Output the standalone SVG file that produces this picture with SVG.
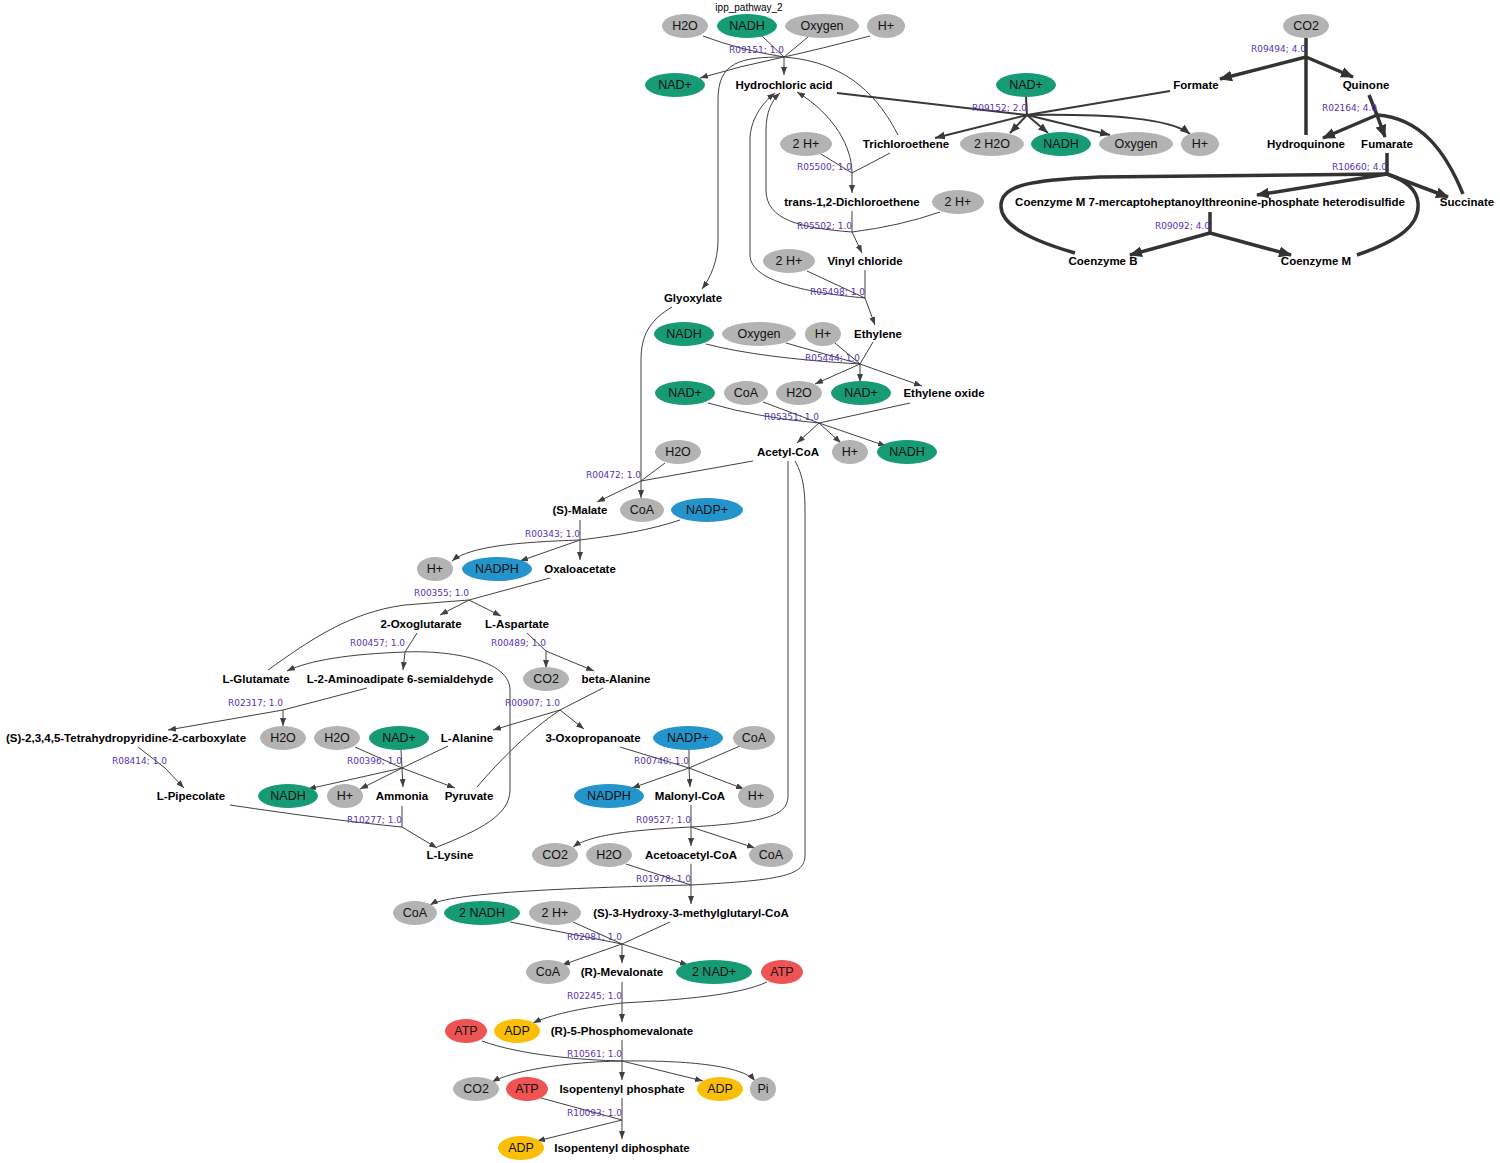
<svg xmlns="http://www.w3.org/2000/svg" width="1500" height="1163" viewBox="0 0 1500 1163">
<style>
  .bg { fill: #ffffff; }
  .cg { fill: #b3b3b3; }
  .cn { fill: #169b74; }
  .cb { fill: #2494cc; }
  .cr { fill: #ef5454; }
  .cy { fill: #fcbf08; }
  .lt { font-family: "Liberation Sans", Arial, sans-serif; font-size: 12.5px; fill: #111; text-anchor: middle; }
  .mt { font-family: "Liberation Sans", Arial, sans-serif; font-size: 11.5px; font-weight: bold; fill: #000; text-anchor: middle; }
  .rt { font-family: "DejaVu Sans", sans-serif; font-size: 9px; fill: #5733b3; text-anchor: end; }
  .tt { font-family: "Liberation Sans", Arial, sans-serif; font-size: 10px; fill: #000; text-anchor: middle; }
  .e { fill: none; stroke: #404040; stroke-width: 1; }
  .e2 { fill: none; stroke: #383838; stroke-width: 2; }
  .e4 { fill: none; stroke: #333333; stroke-width: 3.5; }
  .a { marker-end: url(#a1); }
  .e2.a { marker-end: url(#a2); }
  .e4.a { marker-end: url(#a4); }
</style>
<defs>
  <marker id="a1" markerUnits="userSpaceOnUse" markerWidth="8" markerHeight="6" refX="8" refY="3" orient="auto"><path d="M0,0 L8,3 L0,6 z" fill="#404040"/></marker>
  <marker id="a2" markerUnits="userSpaceOnUse" markerWidth="10" markerHeight="8" refX="10" refY="4" orient="auto"><path d="M0,0 L10,4 L0,8 z" fill="#383838"/></marker>
  <marker id="a4" markerUnits="userSpaceOnUse" markerWidth="13" markerHeight="11" refX="12" refY="5.5" orient="auto"><path d="M0,0 L13,5.5 L0,11 z" fill="#333333"/></marker>
</defs>
<rect class="bg" x="0" y="0" width="1500" height="1163"/>
<text class="tt" x="749" y="11">ipp_pathway_2</text>

<!-- reaction connectors -->
<g id="connectors">
  <g id="r_R09151">
    <path class="e" d="M703,36 Q740,50 784,57"/>
    <path class="e" d="M762,36 L784,57"/>
    <path class="e" d="M808,37 L784,57"/>
    <path class="e" d="M870,36 Q820,49 784,57"/>
    <path class="e" d="M898,135 C880,100 850,62 784,57"/>
    <path class="e a" d="M784,57 L784,75"/>
    <path class="e a" d="M784,57 Q740,66 700,78"/>
    <path class="e a" d="M784,57 C740,57 718,62 718,100 L718,240 C718,262 710,278 702,289"/>
    <text class="rt" x="784" y="53">R09151; 1.0</text>
  </g>
  <g id="r_R05500">
    <path class="e" d="M821,154 L852,173"/>
    <path class="e" d="M890,153 L852,173"/>
    <path class="e a" d="M852,173 L852,193"/>
    <path class="e a" d="M852,173 C852,148 835,115 797,92"/>
    <text class="rt" x="852" y="170">R05500; 1.0</text>
  </g>
  <g id="r_R05502">
    <path class="e" d="M852,211 L852,232"/>
    <path class="e" d="M940,212 Q900,226 852,232"/>
    <path class="e a" d="M852,232 L862,253"/>
    <path class="e a" d="M852,232 C800,228 766,220 766,190 L766,130 C766,112 772,100 780,93"/>
    <text class="rt" x="852" y="229">R05502; 1.0</text>
  </g>
  <g id="r_R05498">
    <path class="e" d="M865,270 L865,298"/>
    <path class="e" d="M807,271 L865,298"/>
    <path class="e a" d="M865,298 L875,325"/>
    <path class="e a" d="M865,298 C810,293 750,282 750,255 L750,140 C750,120 762,103 775,93"/>
    <text class="rt" x="865" y="295">R05498; 1.0</text>
  </g>
  <g id="r_R09152">
    <path class="e2" d="M1026,97 L1027,115"/>
    <path class="e2" d="M837,93 L1027,115"/>
    <path class="e2" d="M1170,91 L1027,115"/>
    <path class="e2 a" d="M1027,115 L935,138"/>
    <path class="e2 a" d="M1027,115 L1010,133"/>
    <path class="e2 a" d="M1027,115 L1048,133"/>
    <path class="e2 a" d="M1027,115 L1110,135"/>
    <path class="e2 a" d="M1027,115 C1110,114 1170,118 1190,134"/>
    <text class="rt" x="1027" y="111">R09152; 2.0</text>
  </g>
  <g id="r_R09494">
    <path class="e4" d="M1306,38 L1306,57"/>
    <path class="e4" d="M1306,135 L1306,57"/>
    <path class="e4 a" d="M1306,57 L1220,79"/>
    <path class="e4 a" d="M1306,57 L1353,77"/>
    <text class="rt" x="1306" y="52">R09494; 4.0</text>
  </g>
  <g id="r_R02164">
    <path class="e4" d="M1369,95 L1377,115"/>
    <path class="e4" d="M1463,194 C1445,150 1420,118 1377,115"/>
    <path class="e4 a" d="M1377,115 L1323,138"/>
    <path class="e4 a" d="M1377,115 L1385,137"/>
    <text class="rt" x="1377" y="111">R02164; 4.0</text>
  </g>
  <g id="r_R10660">
    <path class="e4" d="M1387,153 L1387,174"/>
    <path class="e4" d="M1075,253 C1030,240 1000,225 1001,205 C1002,185 1030,180 1100,177 L1387,174"/>
    <path class="e4" d="M1357,255 C1400,240 1420,225 1418,203 C1417,190 1405,180 1387,174"/>
    <path class="e4 a" d="M1387,174 L1257,195"/>
    <path class="e4 a" d="M1387,174 L1448,197"/>
    <text class="rt" x="1387" y="170">R10660; 4.0</text>
  </g>
  <g id="r_R09092">
    <path class="e4" d="M1210,212 L1210,233"/>
    <path class="e4 a" d="M1210,233 L1130,255"/>
    <path class="e4 a" d="M1210,233 L1291,255"/>
    <text class="rt" x="1210" y="229">R09092; 4.0</text>
  </g>
  <g id="r_R05444">
    <path class="e" d="M706,344 Q760,358 860,364"/>
    <path class="e" d="M786,343 L860,364"/>
    <path class="e" d="M835,343 L860,364"/>
    <path class="e" d="M873,342 L860,364"/>
    <path class="e a" d="M860,364 L815,384"/>
    <path class="e a" d="M860,364 L860,382"/>
    <path class="e a" d="M860,364 L922,386"/>
    <text class="rt" x="860" y="361">R05444; 1.0</text>
  </g>
  <g id="r_R05351">
    <path class="e" d="M708,403 Q760,418 819,423"/>
    <path class="e" d="M763,402 L819,423"/>
    <path class="e" d="M910,403 L819,423"/>
    <path class="e a" d="M819,423 L797,443"/>
    <path class="e a" d="M819,423 L841,443"/>
    <path class="e a" d="M819,423 L886,446"/>
    <text class="rt" x="819" y="420">R05351; 1.0</text>
  </g>
  <g id="r_R00472">
    <path class="e" d="M665,463 L641,481"/>
    <path class="e" d="M753,461 L641,481"/>
    <path class="e" d="M672,307 C650,320 641,335 641,360 L641,481"/>
    <path class="e a" d="M641,481 L641,498"/>
    <path class="e a" d="M641,481 L597,502"/>
    <text class="rt" x="641" y="478">R00472; 1.0</text>
  </g>
  <g id="r_R00343">
    <path class="e" d="M580,520 L580,540"/>
    <path class="e" d="M680,520 C650,530 620,535 580,540"/>
    <path class="e a" d="M580,540 L580,560"/>
    <path class="e a" d="M580,540 C520,542 470,546 452,561"/>
    <path class="e a" d="M580,540 L520,561"/>
    <text class="rt" x="580" y="537">R00343; 1.0</text>
  </g>
  <g id="r_R00355">
    <path class="e" d="M550,578 L469,600"/>
    <path class="e" d="M268,670 C310,640 350,612 405,605 L469,600"/>
    <path class="e a" d="M469,600 L440,615"/>
    <path class="e a" d="M469,600 L501,616"/>
    <text class="rt" x="469" y="596">R00355; 1.0</text>
  </g>
  <g id="r_R00457">
    <path class="e" d="M417,633 L405,652"/>
    <path class="e" d="M437,847 C480,830 510,815 510,790 L510,690 C510,660 450,650 405,652"/>
    <path class="e a" d="M405,652 L403,670"/>
    <path class="e a" d="M405,652 C350,654 310,660 287,671"/>
    <text class="rt" x="405" y="646">R00457; 1.0</text>
  </g>
  <g id="r_R00489">
    <path class="e" d="M527,633 L546,651"/>
    <path class="e a" d="M546,651 L546,668"/>
    <path class="e a" d="M546,651 L594,671"/>
    <text class="rt" x="546" y="646">R00489; 1.0</text>
  </g>
  <g id="r_R02317">
    <path class="e" d="M367,688 L283,710"/>
    <path class="e a" d="M283,710 L168,730"/>
    <path class="e a" d="M283,710 L283,726"/>
    <text class="rt" x="283" y="706">R02317; 1.0</text>
  </g>
  <g id="r_R00907">
    <path class="e" d="M603,688 L560,710"/>
    <path class="e" d="M477,787 C500,760 530,730 560,710"/>
    <path class="e a" d="M560,710 L493,730"/>
    <path class="e a" d="M560,710 L584,729"/>
    <text class="rt" x="560" y="706">R00907; 1.0</text>
  </g>
  <g id="r_R08414">
    <path class="e" d="M138,747 L165,768"/>
    <path class="e a" d="M165,768 L184,788"/>
    <text class="rt" x="167" y="764">R08414; 1.0</text>
  </g>
  <g id="r_R00396">
    <path class="e" d="M355,747 L402,768"/>
    <path class="e" d="M401,750 L402,768"/>
    <path class="e" d="M448,746 L402,768"/>
    <path class="e a" d="M402,768 L403,787"/>
    <path class="e a" d="M402,768 L308,789"/>
    <path class="e a" d="M402,768 L360,789"/>
    <path class="e a" d="M402,768 L455,788"/>
    <text class="rt" x="402" y="764">R00396; 1.0</text>
  </g>
  <g id="r_R00740">
    <path class="e" d="M620,747 L689,768"/>
    <path class="e" d="M689,750 L689,768"/>
    <path class="e" d="M740,746 L689,768"/>
    <path class="e a" d="M689,768 L690,787"/>
    <path class="e a" d="M689,768 L632,788"/>
    <path class="e a" d="M689,768 L744,789"/>
    <text class="rt" x="689" y="764">R00740; 1.0</text>
  </g>
  <g id="r_R10277">
    <path class="e" d="M230,805 Q330,820 402,827"/>
    <path class="e" d="M402,806 L402,827"/>
    <path class="e a" d="M402,827 L437,848"/>
    <text class="rt" x="402" y="823">R10277; 1.0</text>
  </g>
  <g id="r_R09527">
    <path class="e" d="M691,805 L691,827"/>
    <path class="e" d="M788,461 L788,795 C788,815 770,822 691,827"/>
    <path class="e a" d="M691,827 L691,846"/>
    <path class="e a" d="M691,827 C630,830 590,835 573,847"/>
    <path class="e a" d="M691,827 L755,848"/>
    <text class="rt" x="691" y="823">R09527; 1.0</text>
  </g>
  <g id="r_R01978">
    <path class="e" d="M691,864 L691,885"/>
    <path class="e" d="M626,864 L691,885"/>
    <path class="e" d="M795,461 C803,475 805,490 805,510 L805,855 C805,875 785,880 691,885"/>
    <path class="e a" d="M691,885 L691,904"/>
    <path class="e a" d="M691,885 C560,888 450,893 430,905"/>
    <text class="rt" x="691" y="882">R01978; 1.0</text>
  </g>
  <g id="r_R02081">
    <path class="e" d="M670,922 L622,944"/>
    <path class="e" d="M510,922 L622,944"/>
    <path class="e" d="M573,922 L622,944"/>
    <path class="e a" d="M622,944 L622,963"/>
    <path class="e a" d="M622,944 L562,965"/>
    <path class="e a" d="M622,944 L688,965"/>
    <text class="rt" x="622" y="940">R02081; 1.0</text>
  </g>
  <g id="r_R02245">
    <path class="e" d="M622,982 L622,1003"/>
    <path class="e" d="M767,982 C740,995 680,1000 622,1003"/>
    <path class="e a" d="M622,1003 L622,1022"/>
    <path class="e a" d="M622,1003 C580,1008 550,1015 533,1023"/>
    <text class="rt" x="622" y="999">R02245; 1.0</text>
  </g>
  <g id="r_R10561">
    <path class="e" d="M622,1040 L622,1061"/>
    <path class="e" d="M482,1041 C520,1055 580,1060 622,1061"/>
    <path class="e a" d="M622,1061 L622,1080"/>
    <path class="e a" d="M622,1061 C560,1062 510,1072 492,1082"/>
    <path class="e a" d="M622,1061 L703,1081"/>
    <path class="e a" d="M622,1061 C700,1060 745,1068 755,1081"/>
    <text class="rt" x="622" y="1057">R10561; 1.0</text>
  </g>
  <g id="r_R10093">
    <path class="e" d="M622,1098 L622,1120"/>
    <path class="e" d="M541,1098 L622,1120"/>
    <path class="e a" d="M622,1120 L622,1139"/>
    <path class="e a" d="M622,1120 L537,1141"/>
    <text class="rt" x="622" y="1116">R10093; 1.0</text>
  </g>
</g>

<!-- cofactor nodes (ellipses) -->
<g id="n_h2o_1"><ellipse class="cg" cx="685" cy="26" rx="23" ry="12"/><text class="lt" x="685" y="30">H2O</text></g>
<g id="n_nadh_1"><ellipse class="cn" cx="747" cy="26" rx="30" ry="12"/><text class="lt" x="747" y="30">NADH</text></g>
<g id="n_oxygen_1"><ellipse class="cg" cx="822" cy="26" rx="37" ry="12"/><text class="lt" x="822" y="30">Oxygen</text></g>
<g id="n_hplus_1"><ellipse class="cg" cx="886" cy="26" rx="19" ry="12"/><text class="lt" x="886" y="30">H+</text></g>
<g id="n_co2_1"><ellipse class="cg" cx="1306" cy="26" rx="23" ry="12"/><text class="lt" x="1306" y="30">CO2</text></g>
<g id="n_nadp_1"><ellipse class="cn" cx="675" cy="85" rx="30" ry="12"/><text class="lt" x="675" y="89">NAD+</text></g>
<g id="n_nadp_2"><ellipse class="cn" cx="1026" cy="85" rx="30" ry="12"/><text class="lt" x="1026" y="89">NAD+</text></g>
<g id="n_2hplus_1"><ellipse class="cg" cx="806" cy="144" rx="26" ry="12"/><text class="lt" x="806" y="148">2 H+</text></g>
<g id="n_2h2o_1"><ellipse class="cg" cx="992" cy="144" rx="32" ry="12"/><text class="lt" x="992" y="148">2 H2O</text></g>
<g id="n_nadh_2"><ellipse class="cn" cx="1061" cy="144" rx="30" ry="12"/><text class="lt" x="1061" y="148">NADH</text></g>
<g id="n_oxygen_2"><ellipse class="cg" cx="1136" cy="144" rx="37" ry="12"/><text class="lt" x="1136" y="148">Oxygen</text></g>
<g id="n_hplus_2"><ellipse class="cg" cx="1200" cy="144" rx="19" ry="12"/><text class="lt" x="1200" y="148">H+</text></g>
<g id="n_2hplus_2"><ellipse class="cg" cx="958" cy="202" rx="26" ry="12"/><text class="lt" x="958" y="206">2 H+</text></g>
<g id="n_2hplus_3"><ellipse class="cg" cx="789" cy="261" rx="26" ry="12"/><text class="lt" x="789" y="265">2 H+</text></g>
<g id="n_nadh_3"><ellipse class="cn" cx="684" cy="334" rx="30" ry="12"/><text class="lt" x="684" y="338">NADH</text></g>
<g id="n_oxygen_3"><ellipse class="cg" cx="759" cy="334" rx="37" ry="12"/><text class="lt" x="759" y="338">Oxygen</text></g>
<g id="n_hplus_3"><ellipse class="cg" cx="823" cy="334" rx="18" ry="12"/><text class="lt" x="823" y="338">H+</text></g>
<g id="n_nadp_3"><ellipse class="cn" cx="685" cy="393" rx="30" ry="12"/><text class="lt" x="685" y="397">NAD+</text></g>
<g id="n_coa_1"><ellipse class="cg" cx="746" cy="393" rx="22" ry="12"/><text class="lt" x="746" y="397">CoA</text></g>
<g id="n_h2o_2"><ellipse class="cg" cx="799" cy="393" rx="23" ry="12"/><text class="lt" x="799" y="397">H2O</text></g>
<g id="n_nadp_4"><ellipse class="cn" cx="861" cy="393" rx="30" ry="12"/><text class="lt" x="861" y="397">NAD+</text></g>
<g id="n_h2o_3"><ellipse class="cg" cx="678" cy="452" rx="23" ry="12"/><text class="lt" x="678" y="456">H2O</text></g>
<g id="n_hplus_4"><ellipse class="cg" cx="850" cy="452" rx="18" ry="12"/><text class="lt" x="850" y="456">H+</text></g>
<g id="n_nadh_4"><ellipse class="cn" cx="907" cy="452" rx="30" ry="12"/><text class="lt" x="907" y="456">NADH</text></g>
<g id="n_coa_2"><ellipse class="cg" cx="642" cy="510" rx="22" ry="12"/><text class="lt" x="642" y="514">CoA</text></g>
<g id="n_nadpplus_1"><ellipse class="cb" cx="707" cy="510" rx="36" ry="12"/><text class="lt" x="707" y="514">NADP+</text></g>
<g id="n_hplus_5"><ellipse class="cg" cx="435" cy="569" rx="18" ry="12"/><text class="lt" x="435" y="573">H+</text></g>
<g id="n_nadph_1"><ellipse class="cb" cx="497" cy="569" rx="35" ry="12"/><text class="lt" x="497" y="573">NADPH</text></g>
<g id="n_co2_2"><ellipse class="cg" cx="546" cy="679" rx="23" ry="12"/><text class="lt" x="546" y="683">CO2</text></g>
<g id="n_h2o_4"><ellipse class="cg" cx="283" cy="738" rx="23" ry="12"/><text class="lt" x="283" y="742">H2O</text></g>
<g id="n_h2o_5"><ellipse class="cg" cx="337" cy="738" rx="23" ry="12"/><text class="lt" x="337" y="742">H2O</text></g>
<g id="n_nadp_5"><ellipse class="cn" cx="399" cy="738" rx="30" ry="12"/><text class="lt" x="399" y="742">NAD+</text></g>
<g id="n_nadpplus_2"><ellipse class="cb" cx="688" cy="738" rx="35" ry="12"/><text class="lt" x="688" y="742">NADP+</text></g>
<g id="n_coa_3"><ellipse class="cg" cx="754" cy="738" rx="21" ry="12"/><text class="lt" x="754" y="742">CoA</text></g>
<g id="n_nadh_5"><ellipse class="cn" cx="288" cy="796" rx="30" ry="12"/><text class="lt" x="288" y="800">NADH</text></g>
<g id="n_hplus_6"><ellipse class="cg" cx="345" cy="796" rx="18" ry="12"/><text class="lt" x="345" y="800">H+</text></g>
<g id="n_nadph_2"><ellipse class="cb" cx="609" cy="796" rx="35" ry="12"/><text class="lt" x="609" y="800">NADPH</text></g>
<g id="n_hplus_7"><ellipse class="cg" cx="756" cy="796" rx="18" ry="12"/><text class="lt" x="756" y="800">H+</text></g>
<g id="n_co2_3"><ellipse class="cg" cx="555" cy="855" rx="23" ry="12"/><text class="lt" x="555" y="859">CO2</text></g>
<g id="n_h2o_6"><ellipse class="cg" cx="609" cy="855" rx="23" ry="12"/><text class="lt" x="609" y="859">H2O</text></g>
<g id="n_coa_4"><ellipse class="cg" cx="771" cy="855" rx="22" ry="12"/><text class="lt" x="771" y="859">CoA</text></g>
<g id="n_coa_5"><ellipse class="cg" cx="415" cy="913" rx="22" ry="12"/><text class="lt" x="415" y="917">CoA</text></g>
<g id="n_2nadh_1"><ellipse class="cn" cx="482" cy="913" rx="38" ry="12"/><text class="lt" x="482" y="917">2 NADH</text></g>
<g id="n_2hplus_4"><ellipse class="cg" cx="555" cy="913" rx="26" ry="12"/><text class="lt" x="555" y="917">2 H+</text></g>
<g id="n_coa_6"><ellipse class="cg" cx="548" cy="972" rx="22" ry="12"/><text class="lt" x="548" y="976">CoA</text></g>
<g id="n_2nadp_1"><ellipse class="cn" cx="714" cy="972" rx="38" ry="12"/><text class="lt" x="714" y="976">2 NAD+</text></g>
<g id="n_atp_1"><ellipse class="cr" cx="782" cy="972" rx="21" ry="12"/><text class="lt" x="782" y="976">ATP</text></g>
<g id="n_atp_2"><ellipse class="cr" cx="466" cy="1031" rx="21" ry="12"/><text class="lt" x="466" y="1035">ATP</text></g>
<g id="n_adp_1"><ellipse class="cy" cx="517" cy="1031" rx="23" ry="12"/><text class="lt" x="517" y="1035">ADP</text></g>
<g id="n_co2_4"><ellipse class="cg" cx="476" cy="1089" rx="23" ry="12"/><text class="lt" x="476" y="1093">CO2</text></g>
<g id="n_atp_3"><ellipse class="cr" cx="527" cy="1089" rx="21" ry="12"/><text class="lt" x="527" y="1093">ATP</text></g>
<g id="n_adp_2"><ellipse class="cy" cx="720" cy="1089" rx="23" ry="12"/><text class="lt" x="720" y="1093">ADP</text></g>
<g id="n_pi_1"><ellipse class="cg" cx="763" cy="1089" rx="13" ry="12"/><text class="lt" x="763" y="1093">Pi</text></g>
<g id="n_adp_3"><ellipse class="cy" cx="521" cy="1148" rx="23" ry="12"/><text class="lt" x="521" y="1152">ADP</text></g>

<!-- main metabolite nodes (bold labels) -->
<g id="m_hydrochloric_acid"><text class="mt" x="784" y="89">Hydrochloric acid</text></g>
<g id="m_formate"><text class="mt" x="1196" y="89">Formate</text></g>
<g id="m_quinone"><text class="mt" x="1366" y="89">Quinone</text></g>
<g id="m_trichloroethene"><text class="mt" x="906" y="148">Trichloroethene</text></g>
<g id="m_hydroquinone"><text class="mt" x="1306" y="148">Hydroquinone</text></g>
<g id="m_fumarate"><text class="mt" x="1387" y="148">Fumarate</text></g>
<g id="m_dichloroethene"><text class="mt" x="852" y="206">trans-1,2-Dichloroethene</text></g>
<g id="m_heterodisulfide"><text class="mt" x="1210" y="206">Coenzyme M 7-mercaptoheptanoylthreonine-phosphate heterodisulfide</text></g>
<g id="m_succinate"><text class="mt" x="1467" y="206">Succinate</text></g>
<g id="m_vinyl_chloride"><text class="mt" x="865" y="265">Vinyl chloride</text></g>
<g id="m_coenzyme_b"><text class="mt" x="1103" y="265">Coenzyme B</text></g>
<g id="m_coenzyme_m"><text class="mt" x="1316" y="265">Coenzyme M</text></g>
<g id="m_glyoxylate"><text class="mt" x="693" y="302">Glyoxylate</text></g>
<g id="m_ethylene"><text class="mt" x="878" y="338">Ethylene</text></g>
<g id="m_ethylene_oxide"><text class="mt" x="944" y="397">Ethylene oxide</text></g>
<g id="m_acetyl_coa"><text class="mt" x="788" y="456">Acetyl-CoA</text></g>
<g id="m_s_malate"><text class="mt" x="580" y="514">(S)-Malate</text></g>
<g id="m_oxaloacetate"><text class="mt" x="580" y="573">Oxaloacetate</text></g>
<g id="m_2_oxoglutarate"><text class="mt" x="421" y="628">2-Oxoglutarate</text></g>
<g id="m_l_aspartate"><text class="mt" x="517" y="628">L-Aspartate</text></g>
<g id="m_l_glutamate"><text class="mt" x="256" y="683">L-Glutamate</text></g>
<g id="m_aminoadipate_sa"><text class="mt" x="400" y="683">L-2-Aminoadipate 6-semialdehyde</text></g>
<g id="m_beta_alanine"><text class="mt" x="616" y="683">beta-Alanine</text></g>
<g id="m_thp_carboxylate"><text class="mt" x="126" y="742">(S)-2,3,4,5-Tetrahydropyridine-2-carboxylate</text></g>
<g id="m_l_alanine"><text class="mt" x="467" y="742">L-Alanine</text></g>
<g id="m_3_oxopropanoate"><text class="mt" x="593" y="742">3-Oxopropanoate</text></g>
<g id="m_l_pipecolate"><text class="mt" x="191" y="800">L-Pipecolate</text></g>
<g id="m_ammonia"><text class="mt" x="402" y="800">Ammonia</text></g>
<g id="m_pyruvate"><text class="mt" x="469" y="800">Pyruvate</text></g>
<g id="m_malonyl_coa"><text class="mt" x="690" y="800">Malonyl-CoA</text></g>
<g id="m_l_lysine"><text class="mt" x="450" y="859">L-Lysine</text></g>
<g id="m_acetoacetyl_coa"><text class="mt" x="691" y="859">Acetoacetyl-CoA</text></g>
<g id="m_hmg_coa"><text class="mt" x="691" y="917">(S)-3-Hydroxy-3-methylglutaryl-CoA</text></g>
<g id="m_mevalonate"><text class="mt" x="622" y="976">(R)-Mevalonate</text></g>
<g id="m_phosphomevalonate"><text class="mt" x="622" y="1035">(R)-5-Phosphomevalonate</text></g>
<g id="m_ip"><text class="mt" x="622" y="1093">Isopentenyl phosphate</text></g>
<g id="m_ipp"><text class="mt" x="622" y="1152">Isopentenyl diphosphate</text></g>
</svg>
